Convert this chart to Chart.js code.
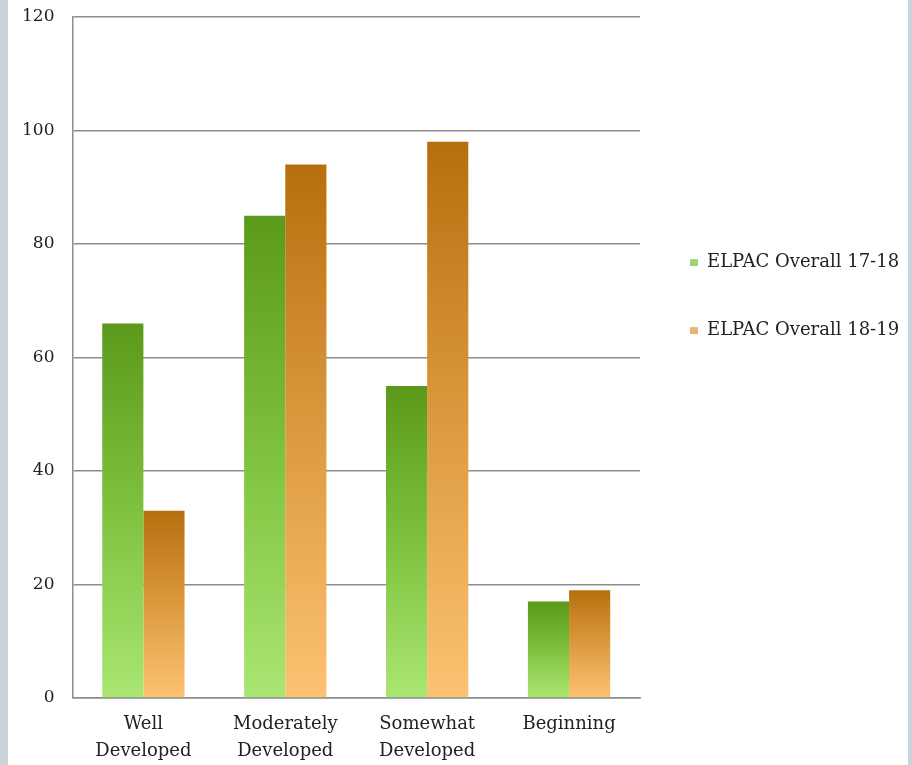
<!DOCTYPE html>
<html>
<head>
<meta charset="utf-8">
<script src="https://cdn.jsdelivr.net/npm/chart.js@4/dist/chart.umd.min.js"></script>
<style>
  html, body { margin: 0; padding: 0; background: #c9d3da; }
  #wrap { position: absolute; left: 8px; top: 0; width: 900px; height: 765px; background: #fff; }
</style>
</head>
<body>
<div id="wrap"><canvas id="chart" width="900" height="765"></canvas></div>
<script>
// chart values
const categories = [['Well', 'Developed'], ['Moderately', 'Developed'], ['Somewhat', 'Developed'], 'Beginning'];
const seriesNames = ['ELPAC Overall 17-18', 'ELPAC Overall 18-19'];
const overall1718 = [66, 85, 55, 17];
const overall1819 = [33, 94, 98, 19];
const yTicks = [0, 20, 40, 60, 80, 100, 120];

const colours = [
    { top: '#5b991b', mid: '#7fc23f', bottom: '#aae672', key: '#9fd27a' },
    { top: '#b66f0e', mid: '#dc9a3e', bottom: '#fdc272', key: '#e9b27c' },
];

function barGradient(i) {
    return function (ctx) {
        const chart = ctx.chart;
        if (!chart.chartArea || ctx.type !== 'data') return colours[i].mid;
        const y = chart.scales.y;
        const top = y.getPixelForValue(ctx.raw);
        const base = y.getPixelForValue(0);
        const g = chart.ctx.createLinearGradient(0, top, 0, base);
        g.addColorStop(0, colours[i].top);
        g.addColorStop(0.5, colours[i].mid);
        g.addColorStop(1, colours[i].bottom);
        return g;
    };
}

// the layout caps a side legend at a quarter of the width; let it use the free room on its right
const widenLegend = {
    id: 'widenLegend',
    afterLayout(chart) {
        const lg = chart.legend;
        if (!lg) return;
        lg.right = chart.width;
        lg.width = lg.right - lg.left;
    },
};

const serif = '"DejaVu Serif", serif';

new Chart(document.getElementById('chart').getContext('2d'), {
    type: 'bar',
    data: {
        labels: categories,
        datasets: [
            { label: seriesNames[0], data: overall1718, backgroundColor: barGradient(0) },
            { label: seriesNames[1], data: overall1819, backgroundColor: barGradient(1) },
        ],
    },
    options: {
        responsive: false,
        animation: false,
        categoryPercentage: 0.58,
        barPercentage: 1.0,
        layout: { padding: { top: 17, left: 14, right: 62, bottom: 0 } },
        scales: {
            x: {
                grid: { display: false, drawTicks: true, tickLength: 13 },
                border: { display: true, color: '#8c8c8c', width: 1.5 },
                ticks: { color: '#222', padding: 0, maxRotation: 0, font: { family: serif, size: 18, lineHeight: 1.5 } },
            },
            y: {
                min: 0,
                max: 120,
                afterBuildTicks: axis => { axis.ticks = yTicks.map(v => ({ value: v })); },
                grid: { color: '#8c8c8c', lineWidth: 1.5, drawTicks: true, tickLength: 18, tickColor: 'rgba(0,0,0,0)' },
                border: { display: true, color: '#8c8c8c', width: 1.5 },
                ticks: { color: '#222', padding: 0, font: { family: serif, size: 17 } },
            },
        },
        plugins: {
            tooltip: { enabled: false },
            legend: {
                position: 'right',
                align: 'start',
                maxWidth: 206,
                title: { display: true, text: ' ', padding: { top: 165, bottom: 0 }, font: { family: serif, size: 18 } },
                labels: {
                    color: '#222',
                    boxWidth: 8,
                    boxHeight: 7,
                    padding: 50,
                    font: { family: serif, size: 18 },
                    generateLabels: chart => chart.data.datasets.map((ds, i) => ({
                        text: ds.label,
                        fillStyle: colours[i].key,
                        strokeStyle: colours[i].key,
                        lineWidth: 0,
                        datasetIndex: i,
                        fontColor: '#222',
                    })),
                },
            },
        },
    },
    plugins: [widenLegend],
});
</script>
</body>
</html>
